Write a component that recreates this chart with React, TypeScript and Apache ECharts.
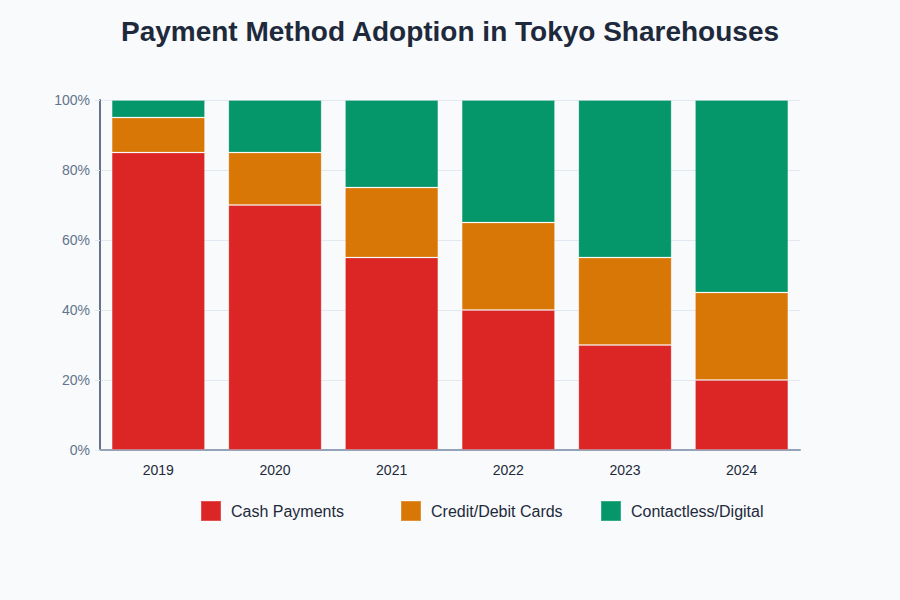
import * as echarts from 'echarts';
import { useEffect, useRef } from 'react';

const years = ['2019', '2020', '2021', '2022', '2023', '2024'];
const seriesNames = ['Cash Payments', 'Credit/Debit Cards', 'Contactless/Digital'];
const cashPayments = [85, 70, 55, 40, 30, 20];
const cardPayments = [10, 15, 20, 25, 25, 25];
const digitalPayments = [5, 15, 25, 35, 45, 55];

const FONT = '"Liberation Sans", Arial, sans-serif';
const COLORS = ['#dc2626', '#d97706', '#059669'];

function App() {
  const chartRef = useRef<HTMLDivElement>(null);

  useEffect(() => {
    const myChart = echarts.init(chartRef.current, undefined, { renderer: 'svg' });

    const barStyle = (color: string) => ({
      color,
      borderColor: 'rgba(255,255,255,0.2)',
      borderWidth: 1,
    });

    // one legend per item so they sit 200px apart like the reference
    const legends = seriesNames.map((name, i) => ({
      data: [name],
      left: 200 + i * 200,
      top: 500,
      padding: 0,
      itemWidth: 20,
      itemHeight: 20,
      icon: 'rect',
      textStyle: {
        fontFamily: FONT,
        fontSize: 16,
        color: '#1e293b',
        padding: [0, 0, 0, 5],
      },
    }));

    const option = {
      animation: false,
      backgroundColor: '#f8fafc',
      textStyle: { fontFamily: FONT },
      title: {
        text: 'Payment Method Adoption in Tokyo Sharehouses',
        left: 'center',
        top: 12,
        textStyle: {
          fontFamily: FONT,
          fontSize: 28,
          fontWeight: 'bold',
          color: '#1e293b',
        },
      },
      legend: legends,
      grid: {
        left: 100,
        right: 100,
        top: 100,
        bottom: 150,
      },
      xAxis: {
        type: 'category',
        data: years,
        axisLine: { lineStyle: { color: '#94a3b8', width: 2 } },
        axisTick: { show: false },
        axisLabel: { color: '#1e293b', fontSize: 14, margin: 13, fontFamily: FONT },
      },
      yAxis: {
        type: 'value',
        min: 0,
        max: 100,
        interval: 20,
        axisLine: { show: true, lineStyle: { color: '#64748b', width: 2 } },
        axisTick: { show: true, length: 5, lineStyle: { color: '#e2e8f0' } },
        axisLabel: {
          color: '#64748b',
          fontSize: 14,
          margin: 10,
          fontFamily: FONT,
          formatter: '{value}%',
        },
        splitLine: { lineStyle: { color: '#e2e8f0' } },
      },
      series: [
        {
          name: seriesNames[0],
          type: 'bar',
          stack: 'total',
          barCategoryGap: '20%',
          itemStyle: barStyle(COLORS[0]),
          data: cashPayments,
        },
        {
          name: seriesNames[1],
          type: 'bar',
          stack: 'total',
          itemStyle: barStyle(COLORS[1]),
          data: cardPayments,
        },
        {
          name: seriesNames[2],
          type: 'bar',
          stack: 'total',
          itemStyle: barStyle(COLORS[2]),
          data: digitalPayments,
        },
      ],
    };

    myChart.setOption(option);

    return () => {
      myChart.dispose();
    };
  }, []);

  return (
    <div
      ref={chartRef}
      style={{ position: 'fixed', left: 0, top: 0, width: '900px', height: '600px' }}
    ></div>
  );
}

export default App;
